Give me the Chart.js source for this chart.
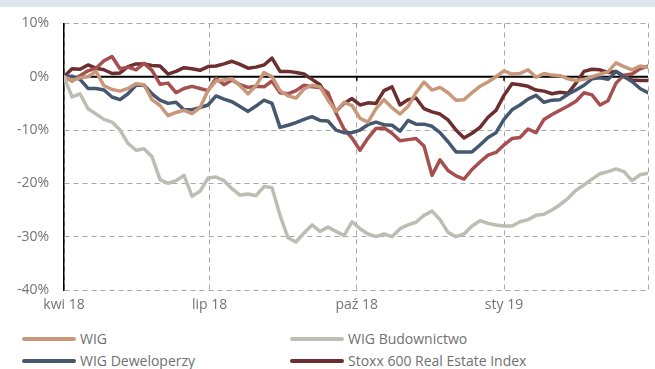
<!DOCTYPE html>
<html><head><meta charset="utf-8">
<script src="https://cdn.jsdelivr.net/npm/chart.js@4"></script>
<style>
body{margin:0;background:#fff;width:655px;height:369px;overflow:hidden;position:relative;font-family:"Open Sans",sans-serif;}
#band{position:absolute;left:0;top:0;width:655px;height:7px;background:#dfe5ec;}
#c{position:absolute;left:0;top:0;}
.lg{position:absolute;font-size:14px;color:#707070;line-height:16px;white-space:nowrap;}
.lg span{display:inline-block;width:54px;height:4px;border-radius:2px;vertical-align:middle;margin-right:4px;position:relative;top:-1px;}
</style></head>
<body>
<div id="band"></div>
<canvas id="c" width="655" height="320"></canvas>
<div id="legend"></div>
<script>
const days = [0,5,10,15,20,25,30,35,40,45,50,55,60,65,70,75,80,85,90,95,100,105,110,115,120,125,130,135,140,145,150,155,160,165,170,175,180,185,190,195,200,205,210,215,220,225,230,235,240,245,250,255,260,265,270,275,280,285,290,295,300,305,310,315,320,325,330,335,340,345,350,355,360,365];
const tickDays = [0,91,183,275,365];
const tickLabels = ["kwi 18","lip 18","paź 18","sty 19",""];
const yTicks = [10,0,-10,-20,-30,-40];

const wig = [0,-0.7,-0.2,0.0,1.0,-1.7,-2.4,-2.7,-2.2,-1.3,-1.5,-4.3,-5.4,-7.3,-6.7,-6.3,-6.9,-5.8,-2.6,-0.8,-0.6,-0.4,-1.7,-3.2,-1.7,0.8,0.0,-2.6,-3.6,-4.0,-2.3,-1.6,-1.9,-4.4,-6.5,-4.8,-5.4,-7.8,-8.5,-6.0,-4.3,-5.8,-7.0,-5.6,-3.0,-1.0,-2.5,-2.0,-3.0,-4.4,-4.3,-3.0,-1.8,-1.0,0.0,1.1,0.5,0.6,1.3,-0.1,0.6,0.3,0.2,-0.4,-0.7,-0.5,0.0,0.5,0.9,2.6,1.9,1.3,2.0,1.7];
const wigBud = [0,-3.8,-3.2,-6.0,-7.0,-8.0,-8.5,-10.0,-12.5,-13.8,-13.5,-15.0,-19.3,-20.0,-19.5,-18.5,-22.4,-21.5,-19.0,-18.8,-19.5,-21.0,-22.2,-22.0,-22.3,-20.6,-20.8,-26.0,-30.2,-31.0,-29.3,-27.8,-29.0,-28.2,-29.0,-29.8,-27.2,-28.5,-29.5,-30.0,-29.5,-30.0,-28.5,-27.8,-27.3,-26.0,-25.2,-26.8,-29.2,-30.0,-29.5,-28.0,-27.0,-27.5,-27.8,-28.0,-28.0,-27.2,-26.8,-26.0,-25.8,-25.0,-24.0,-22.8,-21.3,-20.3,-19.2,-18.2,-17.8,-17.3,-17.8,-19.5,-18.4,-18.1];
const wigDew = [0,0.1,-0.5,-2.2,-2.2,-2.5,-3.8,-4.3,-3.2,-1.6,-1.6,-3.2,-4.4,-5.0,-4.8,-6.2,-6.2,-5.8,-5.3,-3.6,-4.2,-4.7,-5.6,-6.5,-5.5,-4.4,-5.0,-9.5,-9.1,-8.6,-8.0,-7.5,-8.2,-8.3,-10.0,-10.5,-10.5,-10.0,-9.0,-8.5,-9.0,-9.1,-10.2,-8.2,-8.9,-8.9,-9.3,-10.5,-12.2,-14.1,-14.1,-14.1,-12.8,-11.4,-10.5,-8.0,-6.2,-5.3,-4.2,-3.5,-4.8,-4.4,-4.3,-3.3,-2.5,-1.6,-0.4,-0.2,-0.5,1.0,0.0,-0.9,-2.2,-3.0];
const stoxx = [0,1.5,1.4,2.2,1.6,1.3,0.6,0.7,1.9,2.4,2.4,2.1,2.0,0.5,1.0,1.7,1.5,1.2,1.9,2.0,2.4,2.9,2.3,1.6,1.8,2.2,3.5,1.0,1.0,0.8,0.5,-0.5,-1.5,-4.0,-6.5,-5.0,-4.1,-5.3,-4.9,-5.0,-2.6,-1.9,-5.3,-4.3,-4.0,-6.0,-6.6,-7.0,-8.1,-10.0,-11.5,-10.6,-9.5,-7.6,-6.3,-3.5,-1.3,-1.5,-1.8,-2.5,-2.7,-3.2,-2.9,-3.1,-1.2,1.0,1.4,1.3,0.8,1.0,0.1,-0.6,-0.7,-0.7];
const fifth = [0,-0.8,0.2,1.1,1.6,3.0,3.8,1.5,1.8,1.3,2.5,1.2,-1.4,-1.2,-3.0,-2.2,-1.8,-2.2,-2.6,-0.3,-1.5,-0.6,-1.5,-2.0,-1.8,-1.9,-0.8,-3.0,-3.2,-2.6,-1.6,-1.9,-2.0,-3.0,-6.8,-9.8,-11.5,-13.8,-11.5,-9.7,-9.6,-10.6,-12.0,-11.8,-11.6,-13.0,-18.5,-15.6,-17.6,-18.6,-19.2,-17.4,-16.0,-14.7,-14.2,-12.8,-11.6,-11.4,-9.8,-10.5,-8.0,-7.1,-6.3,-5.5,-4.6,-3.0,-3.4,-5.3,-4.5,-1.2,0.3,0.5,1.5,2.0];

const series = [
  {label:"WIG", data:wig, color:"#c9987a"},
  {label:"WIG Budownictwo", data:wigBud, color:"#bdbdb3"},
  {label:"WIG Deweloperzy", data:wigDew, color:"#465870"},
  {label:"Stoxx 600 Real Estate Index", data:stoxx, color:"#6c2e2e"},
  {label:"", data:fifth, color:"#a54f4f"}
];
const order = [1,0,2,4,3];

const zeroLine = {
  id:'zeroLine',
  beforeDatasetsDraw(chart){
    const ctx=chart.ctx, y=chart.scales.y, x=chart.scales.x, a=chart.chartArea;
    const y0=y.getPixelForValue(0);
    ctx.save();
    ctx.strokeStyle='#000';ctx.lineWidth=2;
    ctx.beginPath();ctx.moveTo(a.left,y0);ctx.lineTo(a.right,y0);ctx.stroke();
    ctx.lineWidth=1.5;
    tickDays.slice(1,4).forEach(d=>{const px=x.getPixelForValue(d);ctx.beginPath();ctx.moveTo(px,y0);ctx.lineTo(px,y0+4);ctx.stroke();});
    ctx.restore();
  }
};

new Chart(document.getElementById('c'),{
  type:'line',
  data:{datasets: order.map(i=>({
    label:series[i].label,
    data:days.map((d,k)=>({x:d,y:series[i].data[k]})),
    borderColor:series[i].color, backgroundColor:series[i].color,
    borderWidth:3.5, borderJoinStyle:'round', borderCapStyle:'round',
    pointRadius:0, tension:0, fill:false
  }))},
  options:{
    responsive:false, animation:false, devicePixelRatio:1,
    layout:{padding:{top:20,right:1,left:0,bottom:0}},
    plugins:{legend:{display:false},tooltip:{enabled:false}},
    scales:{
      x:{type:'linear',min:0,max:365,
        afterBuildTicks(s){s.ticks=tickDays.map(v=>({value:v}));},
        afterFit(s){s.height=30;},
        ticks:{padding:7,autoSkip:false,maxRotation:0,color:'#737373',font:{family:'Open Sans',size:14},
          callback:(v)=>{const i=tickDays.indexOf(v);return i>=0?tickLabels[i]:'';}},
        grid:{color:'#a8a8a8',lineWidth:1,drawTicks:false},
        border:{display:false,dash:[5,4]}
      },
      y:{min:-40,max:10,
        afterBuildTicks(s){s.ticks=yTicks.map(v=>({value:v}));},
        afterFit(s){s.width=64;},
        ticks:{padding:15,color:'#737373',font:{family:'Open Sans',size:14},callback:v=>v+'%'},
        grid:{color:'#a8a8a8',lineWidth:1,drawTicks:false},
        border:{display:true,color:'#000',width:1.5,dash:[5,4]}
      }
    }
  },
  plugins:[zeroLine]
});

const lg=document.getElementById('legend');
[[0,22,331],[1,290,331],[2,22,353],[3,290,353]].forEach(([i,l,t])=>{
  const d=document.createElement('div');d.className='lg';d.style.left=l+'px';d.style.top=t+'px';
  d.innerHTML='<span style="background:'+series[i].color+'"></span>'+series[i].label;
  lg.appendChild(d);
});
</script>
</body></html>
